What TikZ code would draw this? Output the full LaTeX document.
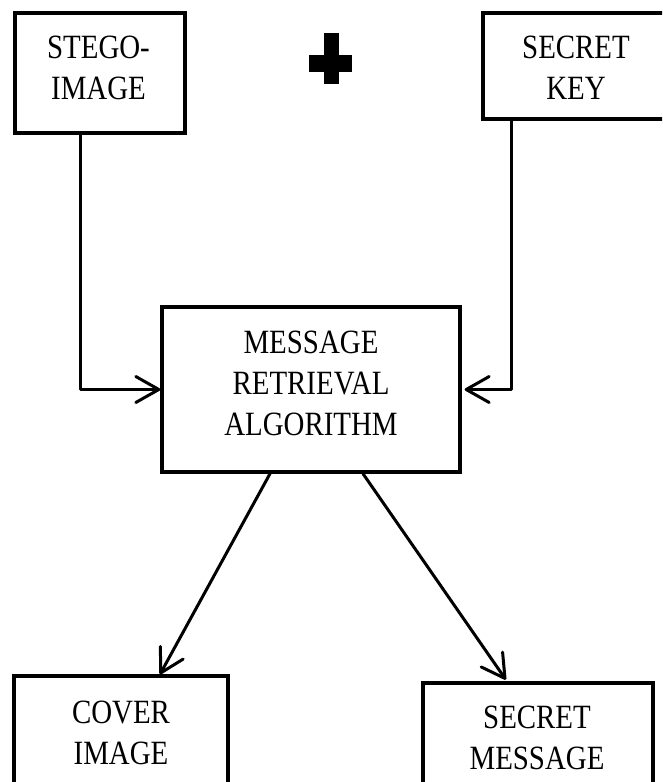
\documentclass[tikz,border=0pt]{standalone}
\usepackage{fontspec}
\setmainfont{Liberation Serif}[FakeStretch=0.85]
\usetikzlibrary{arrows.meta}
\begin{document}
\begin{tikzpicture}[x=1pt,y=-1pt,
  box/.style={draw, line width=3.4pt, rectangle, inner sep=0pt},
  txt/.style={align=center, inner sep=0pt, font=\fontsize{34}{41}\selectfont},
  conn/.style={line width=3pt, line cap=round, line join=round,
    -{Straight Barb[length=23pt,width=26pt,round]}}]
\useasboundingbox (0,0) rectangle (662,782);
\fill[white] (0,0) rectangle (662,782);
\clip (0,0) rectangle (662,782);
% boxes
\node[box, minimum width=170pt, minimum height=120pt] (stego) at (100,73) {};
\node[box, minimum width=197pt, minimum height=106pt] (key) at (581.5,66) {};
\node[box, minimum width=298pt, minimum height=165pt] (msg) at (311,389.5) {};
\node[box, minimum width=214pt, minimum height=144pt] (cover) at (121,748) {};
\node[box, minimum width=230pt, minimum height=147pt] (smsg) at (538,756.5) {};
% texts
\node[txt] (stegoT) at (98.5,68) {STEGO-\\IMAGE};
\node[txt] (keyT) at (576,68) {SECRET\\KEY};
\node[txt] (msgT) at (311,383) {MESSAGE\\RETRIEVAL\\ALGORITHM};
\node[txt] (coverT) at (121,733) {COVER\\IMAGE};
\node[txt] (smsgT) at (537,738) {SECRET\\MESSAGE};
% plus sign
\fill (324,33) rectangle (339,84);
\fill (309,55) rectangle (352,72);
% connectors
\draw[conn] ([xshift=-20pt]stego.south) |- (msg.west);
\draw[conn, shorten >=3pt] ([xshift=30pt]key.south west) |- (msg.east);
\draw[conn] ([xshift=-41pt]msg.south) -- ([xshift=39pt]cover.north);
\draw[conn, shorten >=2pt] ([xshift=52pt]msg.south) -- ([xshift=-31pt]smsg.north);
\end{tikzpicture}
\end{document}
